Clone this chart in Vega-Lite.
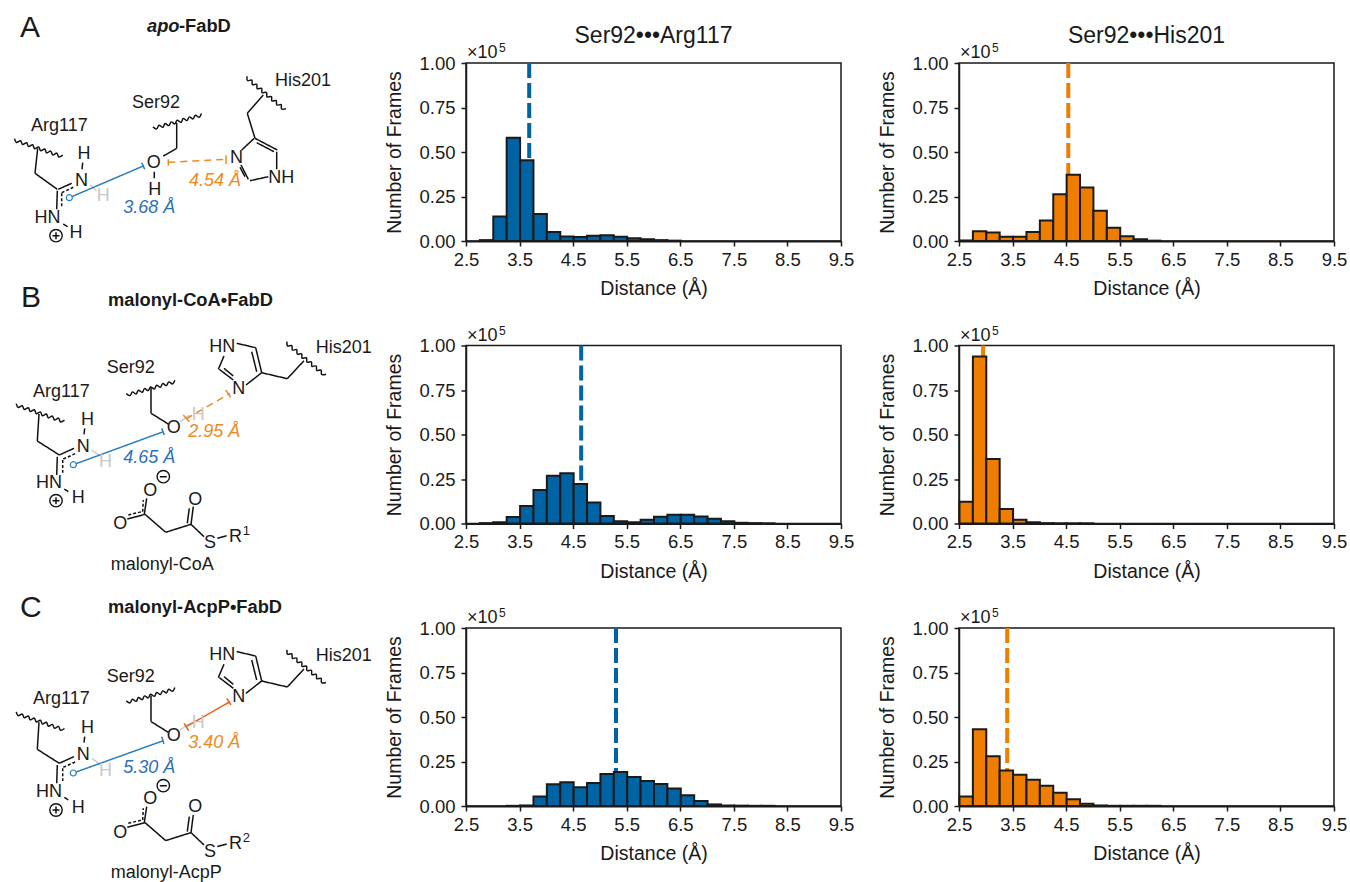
{
"$schema":"https://vega.github.io/schema/vega-lite/v6.json",
"padding":0,"background":"white","autosize":{"type":"pad"},
"config":{"font":"Liberation Sans","view":{"stroke":"#1a1a1a","strokeWidth":1.5},"text":{"color":"#1a1a1a"},
"axis":{"grid":false,"labelFontSize":18.5,"titleFontSize":19.5,"titleFontWeight":"normal","labelColor":"#1a1a1a","titleColor":"#1a1a1a","tickColor":"#1a1a1a","domainColor":"#1a1a1a","tickWidth":1.5,"domainWidth":1.5,"tickSize":5,"labelFlush":false,"labelOverlap":false},
"axisX":{"labelPadding":4,"titlePadding":11,"domainWidth":2.2},"axisY":{"labelPadding":6,"titlePadding":14}},
"datasets":{
"means":[{"panel":"A-Arg","mean":3.68},{"panel":"A-His","mean":4.54},{"panel":"B-Arg","mean":4.65},{"panel":"B-His","mean":2.95},{"panel":"C-Arg","mean":5.30},{"panel":"C-His","mean":3.40}],
"bars":[
{"panel":"A-Arg","start":2.75,"frames":500},{"panel":"A-Arg","start":3.0,"frames":13700},{"panel":"A-Arg","start":3.25,"frames":58000},{"panel":"A-Arg","start":3.5,"frames":45300},{"panel":"A-Arg","start":3.75,"frames":15200},{"panel":"A-Arg","start":4.0,"frames":5000},{"panel":"A-Arg","start":4.25,"frames":2500},{"panel":"A-Arg","start":4.5,"frames":2200},{"panel":"A-Arg","start":4.75,"frames":3000},{"panel":"A-Arg","start":5.0,"frames":3200},{"panel":"A-Arg","start":5.25,"frames":2400},{"panel":"A-Arg","start":5.5,"frames":1600},{"panel":"A-Arg","start":5.75,"frames":1000},{"panel":"A-Arg","start":6.0,"frames":500},{"panel":"A-Arg","start":6.25,"frames":200},
{"panel":"A-His","start":2.5,"frames":300},{"panel":"A-His","start":2.75,"frames":5500},{"panel":"A-His","start":3.0,"frames":4800},{"panel":"A-His","start":3.25,"frames":2400},{"panel":"A-His","start":3.5,"frames":2400},{"panel":"A-His","start":3.75,"frames":5000},{"panel":"A-His","start":4.0,"frames":11500},{"panel":"A-His","start":4.25,"frames":26200},{"panel":"A-His","start":4.5,"frames":37200},{"panel":"A-His","start":4.75,"frames":30000},{"panel":"A-His","start":5.0,"frames":17000},{"panel":"A-His","start":5.25,"frames":7500},{"panel":"A-His","start":5.5,"frames":2700},{"panel":"A-His","start":5.75,"frames":1000},{"panel":"A-His","start":6.0,"frames":200},
{"panel":"B-Arg","start":2.75,"frames":200},{"panel":"B-Arg","start":3.0,"frames":700},{"panel":"B-Arg","start":3.25,"frames":3700},{"panel":"B-Arg","start":3.5,"frames":9800},{"panel":"B-Arg","start":3.75,"frames":18800},{"panel":"B-Arg","start":4.0,"frames":26800},{"panel":"B-Arg","start":4.25,"frames":28200},{"panel":"B-Arg","start":4.5,"frames":22200},{"panel":"B-Arg","start":4.75,"frames":11800},{"panel":"B-Arg","start":5.0,"frames":4200},{"panel":"B-Arg","start":5.25,"frames":1200},{"panel":"B-Arg","start":5.5,"frames":700},{"panel":"B-Arg","start":5.75,"frames":2100},{"panel":"B-Arg","start":6.0,"frames":3800},{"panel":"B-Arg","start":6.25,"frames":4900},{"panel":"B-Arg","start":6.5,"frames":4900},{"panel":"B-Arg","start":6.75,"frames":4000},{"panel":"B-Arg","start":7.0,"frames":2600},{"panel":"B-Arg","start":7.25,"frames":1200},{"panel":"B-Arg","start":7.5,"frames":400},{"panel":"B-Arg","start":7.75,"frames":200},{"panel":"B-Arg","start":8.0,"frames":100},
{"panel":"B-His","start":2.5,"frames":12200},{"panel":"B-His","start":2.75,"frames":93800},{"panel":"B-His","start":3.0,"frames":36200},{"panel":"B-His","start":3.25,"frames":8100},{"panel":"B-His","start":3.5,"frames":2100},{"panel":"B-His","start":3.75,"frames":700},{"panel":"B-His","start":4.0,"frames":200},{"panel":"B-His","start":4.25,"frames":100},{"panel":"B-His","start":4.5,"frames":100},{"panel":"B-His","start":4.75,"frames":100},
{"panel":"C-Arg","start":3.25,"frames":100},{"panel":"C-Arg","start":3.5,"frames":300},{"panel":"C-Arg","start":3.75,"frames":5300},{"panel":"C-Arg","start":4.0,"frames":12200},{"panel":"C-Arg","start":4.25,"frames":13300},{"panel":"C-Arg","start":4.5,"frames":10500},{"panel":"C-Arg","start":4.75,"frames":12900},{"panel":"C-Arg","start":5.0,"frames":18000},{"panel":"C-Arg","start":5.25,"frames":19100},{"panel":"C-Arg","start":5.5,"frames":16300},{"panel":"C-Arg","start":5.75,"frames":14100},{"panel":"C-Arg","start":6.0,"frames":12400},{"panel":"C-Arg","start":6.25,"frames":9800},{"panel":"C-Arg","start":6.5,"frames":6000},{"panel":"C-Arg","start":6.75,"frames":2800},{"panel":"C-Arg","start":7.0,"frames":900},{"panel":"C-Arg","start":7.25,"frames":300},{"panel":"C-Arg","start":7.5,"frames":200},{"panel":"C-Arg","start":7.75,"frames":100},{"panel":"C-Arg","start":8.0,"frames":100},
{"panel":"C-His","start":2.5,"frames":5400},{"panel":"C-His","start":2.75,"frames":43100},{"panel":"C-His","start":3.0,"frames":28000},{"panel":"C-His","start":3.25,"frames":20000},{"panel":"C-His","start":3.5,"frames":17600},{"panel":"C-His","start":3.75,"frames":14800},{"panel":"C-His","start":4.0,"frames":11400},{"panel":"C-His","start":4.25,"frames":7500},{"panel":"C-His","start":4.5,"frames":3800},{"panel":"C-His","start":4.75,"frames":1300},{"panel":"C-His","start":5.0,"frames":300},{"panel":"C-His","start":5.25,"frames":100},{"panel":"C-His","start":5.5,"frames":100},{"panel":"C-His","start":5.75,"frames":100},{"panel":"C-His","start":6.0,"frames":100}
],
"bonds":[
{"kind":"bond","x":37.7,"y":148.3,"x2":35,"y2":173.3},{"kind":"bond","x":35,"y":173.3,"x2":57.3,"y2":189.3},{"kind":"bond","x":58.3,"y":189.3,"x2":71.7,"y2":183.3},{"kind":"partial","x":61.7,"y":192.7,"x2":73.3,"y2":187.3},{"kind":"bond","x":57.3,"y":190.7,"x2":56.7,"y2":209.3},{"kind":"partial","x":61.7,"y":193.3,"x2":61.7,"y2":208.3},{"kind":"bond","x":82.7,"y":162.7,"x2":82,"y2":169.3},{"kind":"ghost","x":90,"y":185,"x2":96.7,"y2":190.7},{"kind":"bond","x":63.3,"y":224,"x2":67.7,"y2":226.7},
{"kind":"bond","x":176.7,"y":122.7,"x2":176.7,"y2":148.3},{"kind":"bond","x":176.7,"y":148.3,"x2":163.3,"y2":156},{"kind":"bond","x":154.3,"y":171.7,"x2":154.3,"y2":178.3},
{"kind":"bond","x":263.3,"y":95,"x2":247.3,"y2":113.3},{"kind":"bond","x":247.3,"y":113.3,"x2":255,"y2":138.3},{"kind":"bond","x":255,"y":138.3,"x2":277.3,"y2":150},{"kind":"bond","x":256.7,"y":142.7,"x2":274,"y2":151.7},{"kind":"bond","x":276.7,"y":151.7,"x2":276.7,"y2":169.3},{"kind":"bond","x":268.3,"y":176.7,"x2":250,"y2":180.7},{"kind":"bond","x":248.3,"y":179.3,"x2":241,"y2":165},{"kind":"bond","x":245,"y":176.7,"x2":240,"y2":167.3},{"kind":"bond","x":254.3,"y":138.3,"x2":241.7,"y2":150},
{"kind":"argLink","x":69.3,"y":197.7,"x2":144,"y2":165.7},{"kind":"argLink","x":141.7,"y":162.7,"x2":144.7,"y2":169.3},{"kind":"hisDash","x":168.3,"y":162.3,"x2":226.7,"y2":159.3},{"kind":"hisLink","x":168.3,"y":159.3,"x2":168.3,"y2":165.7},{"kind":"hisLink","x":226,"y":155.3,"x2":226,"y2":164},
{"kind":"sign","x":52.5,"y":235.7,"x2":59.5,"y2":235.7},{"kind":"sign","x":56,"y":232.2,"x2":56,"y2":239.2},
{"kind":"bond","x":39,"y":414,"x2":37.3,"y2":441},{"kind":"bond","x":37.3,"y":441,"x2":59.3,"y2":455},{"kind":"bond","x":59.3,"y":455,"x2":74,"y2":448.3},{"kind":"partial","x":63.3,"y":459,"x2":76,"y2":453.3},{"kind":"bond","x":57.3,"y":456.7,"x2":56.7,"y2":475},{"kind":"partial","x":62.7,"y":460,"x2":62.7,"y2":472.7},{"kind":"bond","x":84.7,"y":428.3,"x2":84,"y2":434.3},{"kind":"ghost","x":91.7,"y":450,"x2":100,"y2":456},{"kind":"bond","x":64.3,"y":489,"x2":68.3,"y2":491.7},
{"kind":"bond","x":151,"y":387.3,"x2":151,"y2":413.3},{"kind":"bond","x":151,"y":413.3,"x2":168.3,"y2":424},{"kind":"ghost","x":180,"y":421.7,"x2":190,"y2":415},
{"kind":"bond","x":304,"y":360.7,"x2":287.3,"y2":378.7},{"kind":"bond","x":287.3,"y":378.7,"x2":261.7,"y2":372.7},{"kind":"bond","x":261.7,"y":372.7,"x2":255.7,"y2":347.7},{"kind":"bond","x":256.7,"y":371.7,"x2":251.7,"y2":351.7},{"kind":"bond","x":236.7,"y":343.3,"x2":255.7,"y2":347.7},{"kind":"bond","x":224,"y":356,"x2":218.3,"y2":369.3},{"kind":"bond","x":219.3,"y":369.3,"x2":233.3,"y2":380},{"kind":"bond","x":224,"y":368.3,"x2":233.3,"y2":376},{"kind":"bond","x":246,"y":385,"x2":261.7,"y2":372.7},
{"kind":"bond","x":127.3,"y":519,"x2":145,"y2":514.3},{"kind":"partial","x":128.3,"y":515,"x2":141.7,"y2":511.7},{"kind":"bond","x":144.3,"y":514.3,"x2":146.7,"y2":498.3},{"kind":"partial","x":142.7,"y":511.7,"x2":143.3,"y2":500},{"kind":"bond","x":145,"y":514.3,"x2":165.7,"y2":532.3},{"kind":"bond","x":165.7,"y":532.3,"x2":191,"y2":524.3},{"kind":"bond","x":191,"y":524.3,"x2":193.3,"y2":506.7},{"kind":"bond","x":187.3,"y":523.3,"x2":189.3,"y2":508.3},{"kind":"bond","x":191,"y":524.3,"x2":204,"y2":536.7},{"kind":"bond","x":217.3,"y":538.3,"x2":226.7,"y2":535.7},
{"kind":"argLink","x":73.3,"y":464.7,"x2":163.3,"y2":431.7},{"kind":"argLink","x":161.7,"y":428.3,"x2":164.3,"y2":435},{"kind":"hisDash","x":186,"y":419,"x2":230,"y2":393.3},{"kind":"hisLink","x":183.3,"y":415,"x2":189.3,"y2":421.7},{"kind":"hisLink","x":225.7,"y":390,"x2":230.7,"y2":397.3},
{"kind":"sign","x":52.5,"y":500.7,"x2":59.5,"y2":500.7},{"kind":"sign","x":56,"y":497.2,"x2":56,"y2":504.2},{"kind":"sign","x":159.8,"y":476.7,"x2":166.8,"y2":476.7},
{"kind":"bond","x":39,"y":722.3,"x2":37.3,"y2":749.3},{"kind":"bond","x":37.3,"y":749.3,"x2":59.3,"y2":763.3},{"kind":"bond","x":59.3,"y":763.3,"x2":74,"y2":756.6},{"kind":"partial","x":63.3,"y":767.3,"x2":76,"y2":761.6},{"kind":"bond","x":57.3,"y":765,"x2":56.7,"y2":783.3},{"kind":"partial","x":62.7,"y":768.3,"x2":62.7,"y2":781},{"kind":"bond","x":84.7,"y":736.6,"x2":84,"y2":742.6},{"kind":"ghost","x":91.7,"y":758.3,"x2":100,"y2":764.3},{"kind":"bond","x":64.3,"y":797.3,"x2":68.3,"y2":800},
{"kind":"bond","x":151,"y":695.6,"x2":151,"y2":721.6},{"kind":"bond","x":151,"y":721.6,"x2":168.3,"y2":732.3},{"kind":"ghost","x":180,"y":730,"x2":190,"y2":723.3},
{"kind":"bond","x":304,"y":669,"x2":287.3,"y2":687},{"kind":"bond","x":287.3,"y":687,"x2":261.7,"y2":681},{"kind":"bond","x":261.7,"y":681,"x2":255.7,"y2":656},{"kind":"bond","x":256.7,"y":680,"x2":251.7,"y2":660},{"kind":"bond","x":236.7,"y":651.6,"x2":255.7,"y2":656},{"kind":"bond","x":224,"y":664.3,"x2":218.3,"y2":677.6},{"kind":"bond","x":219.3,"y":677.6,"x2":233.3,"y2":688.3},{"kind":"bond","x":224,"y":676.6,"x2":233.3,"y2":684.3},{"kind":"bond","x":246,"y":693.3,"x2":261.7,"y2":681},
{"kind":"bond","x":127.3,"y":827.3,"x2":145,"y2":822.6},{"kind":"partial","x":128.3,"y":823.3,"x2":141.7,"y2":820},{"kind":"bond","x":144.3,"y":822.6,"x2":146.7,"y2":806.6},{"kind":"partial","x":142.7,"y":820,"x2":143.3,"y2":808.3},{"kind":"bond","x":145,"y":822.6,"x2":165.7,"y2":840.6},{"kind":"bond","x":165.7,"y":840.6,"x2":191,"y2":832.6},{"kind":"bond","x":191,"y":832.6,"x2":193.3,"y2":815},{"kind":"bond","x":187.3,"y":831.6,"x2":189.3,"y2":816.6},{"kind":"bond","x":191,"y":832.6,"x2":204,"y2":845},{"kind":"bond","x":217.3,"y":846.6,"x2":226.7,"y2":844},
{"kind":"argLink","x":73.3,"y":773,"x2":163.3,"y2":740.7},{"kind":"argLink","x":161.7,"y":736.7,"x2":164,"y2":744},{"kind":"hisSolid","x":186,"y":726.7,"x2":230,"y2":701.7},{"kind":"hisSolid","x":184,"y":723.3,"x2":188.7,"y2":730.7},{"kind":"hisSolid","x":226.7,"y":698.3,"x2":231,"y2":705},
{"kind":"sign","x":52.5,"y":810,"x2":59.5,"y2":810},{"kind":"sign","x":56,"y":806.5,"x2":56,"y2":813.5},{"kind":"sign","x":159.8,"y":785.7,"x2":166.8,"y2":785.7}
],
"waves":[
{"id":"argA","s":0,"x":14.5,"y":138.6},{"id":"argA","s":1,"x":16.5,"y":142.5},{"id":"argA","s":2,"x":20.5,"y":140.7},{"id":"argA","s":3,"x":22.6,"y":144.5},{"id":"argA","s":4,"x":26.6,"y":142.7},{"id":"argA","s":5,"x":28.6,"y":146.6},{"id":"argA","s":6,"x":32.6,"y":144.8},{"id":"argA","s":7,"x":34.7,"y":148.7},{"id":"argA","s":8,"x":38.7,"y":146.9},{"id":"argA","s":9,"x":40.7,"y":150.8},{"id":"argA","s":10,"x":44.7,"y":149},{"id":"argA","s":11,"x":46.7,"y":152.9},{"id":"argA","s":12,"x":50.7,"y":151.1},{"id":"argA","s":13,"x":52.8,"y":155},{"id":"argA","s":14,"x":56.8,"y":153.1},{"id":"argA","s":15,"x":58.8,"y":157},{"id":"argA","s":16,"x":62.8,"y":155.2},
{"id":"argB","s":0,"x":16.2,"y":403.6},{"id":"argB","s":1,"x":18.2,"y":407.5},{"id":"argB","s":2,"x":22.2,"y":405.7},{"id":"argB","s":3,"x":24.3,"y":409.5},{"id":"argB","s":4,"x":28.3,"y":407.7},{"id":"argB","s":5,"x":30.3,"y":411.6},{"id":"argB","s":6,"x":34.3,"y":409.8},{"id":"argB","s":7,"x":36.4,"y":413.7},{"id":"argB","s":8,"x":40.4,"y":411.9},{"id":"argB","s":9,"x":42.4,"y":415.8},{"id":"argB","s":10,"x":46.4,"y":414},{"id":"argB","s":11,"x":48.4,"y":417.9},{"id":"argB","s":12,"x":52.4,"y":416.1},{"id":"argB","s":13,"x":54.5,"y":420},{"id":"argB","s":14,"x":58.5,"y":418.1},{"id":"argB","s":15,"x":60.5,"y":422},{"id":"argB","s":16,"x":64.5,"y":420.2},
{"id":"argC","s":0,"x":16.2,"y":711.9},{"id":"argC","s":1,"x":18.2,"y":715.8},{"id":"argC","s":2,"x":22.2,"y":714},{"id":"argC","s":3,"x":24.3,"y":717.8},{"id":"argC","s":4,"x":28.3,"y":716},{"id":"argC","s":5,"x":30.3,"y":719.9},{"id":"argC","s":6,"x":34.3,"y":718.1},{"id":"argC","s":7,"x":36.4,"y":722},{"id":"argC","s":8,"x":40.4,"y":720.2},{"id":"argC","s":9,"x":42.4,"y":724.1},{"id":"argC","s":10,"x":46.4,"y":722.3},{"id":"argC","s":11,"x":48.4,"y":726.2},{"id":"argC","s":12,"x":52.4,"y":724.4},{"id":"argC","s":13,"x":54.5,"y":728.3},{"id":"argC","s":14,"x":58.5,"y":726.4},{"id":"argC","s":15,"x":60.5,"y":730.3},{"id":"argC","s":16,"x":64.5,"y":728.5},
{"id":"serA","s":0,"x":152.9,"y":126.9},{"id":"serA","s":1,"x":156.7,"y":128.9},{"id":"serA","s":2,"x":159,"y":125.2},{"id":"serA","s":3,"x":162.8,"y":127.3},{"id":"serA","s":4,"x":165,"y":123.5},{"id":"serA","s":5,"x":168.9,"y":125.6},{"id":"serA","s":6,"x":171.1,"y":121.9},{"id":"serA","s":7,"x":174.9,"y":123.9},{"id":"serA","s":8,"x":177.1,"y":120.2},{"id":"serA","s":9,"x":181,"y":122.3},{"id":"serA","s":10,"x":183.2,"y":118.5},{"id":"serA","s":11,"x":187,"y":120.6},{"id":"serA","s":12,"x":189.3,"y":116.9},{"id":"serA","s":13,"x":193.1,"y":118.9},{"id":"serA","s":14,"x":195.3,"y":115.2},{"id":"serA","s":15,"x":199.2,"y":117.3},{"id":"serA","s":16,"x":201.4,"y":113.6},
{"id":"serB","s":0,"x":126.3,"y":393.6},{"id":"serB","s":1,"x":130.1,"y":395.6},{"id":"serB","s":2,"x":132.4,"y":391.9},{"id":"serB","s":3,"x":136.2,"y":394},{"id":"serB","s":4,"x":138.4,"y":390.2},{"id":"serB","s":5,"x":142.3,"y":392.3},{"id":"serB","s":6,"x":144.5,"y":388.6},{"id":"serB","s":7,"x":148.3,"y":390.6},{"id":"serB","s":8,"x":150.5,"y":386.9},{"id":"serB","s":9,"x":154.4,"y":389},{"id":"serB","s":10,"x":156.6,"y":385.2},{"id":"serB","s":11,"x":160.4,"y":387.3},{"id":"serB","s":12,"x":162.7,"y":383.6},{"id":"serB","s":13,"x":166.5,"y":385.6},{"id":"serB","s":14,"x":168.7,"y":381.9},{"id":"serB","s":15,"x":172.6,"y":384},{"id":"serB","s":16,"x":174.8,"y":380.3},
{"id":"serC","s":0,"x":126.3,"y":700.9},{"id":"serC","s":1,"x":130.1,"y":702.9},{"id":"serC","s":2,"x":132.4,"y":699.2},{"id":"serC","s":3,"x":136.2,"y":701.3},{"id":"serC","s":4,"x":138.4,"y":697.5},{"id":"serC","s":5,"x":142.3,"y":699.6},{"id":"serC","s":6,"x":144.5,"y":695.9},{"id":"serC","s":7,"x":148.3,"y":697.9},{"id":"serC","s":8,"x":150.5,"y":694.2},{"id":"serC","s":9,"x":154.4,"y":696.3},{"id":"serC","s":10,"x":156.6,"y":692.5},{"id":"serC","s":11,"x":160.4,"y":694.6},{"id":"serC","s":12,"x":162.7,"y":690.9},{"id":"serC","s":13,"x":166.5,"y":692.9},{"id":"serC","s":14,"x":168.7,"y":689.2},{"id":"serC","s":15,"x":172.6,"y":691.3},{"id":"serC","s":16,"x":174.8,"y":687.6},
{"id":"hisA","s":0,"x":247,"y":76.2},{"id":"hisA","s":1,"x":247.5,"y":80.5},{"id":"hisA","s":2,"x":251.8,"y":80.2},{"id":"hisA","s":3,"x":252.4,"y":84.6},{"id":"hisA","s":4,"x":256.7,"y":84.3},{"id":"hisA","s":5,"x":257.2,"y":88.6},{"id":"hisA","s":6,"x":261.6,"y":88.4},{"id":"hisA","s":7,"x":262.1,"y":92.7},{"id":"hisA","s":8,"x":266.5,"y":92.5},{"id":"hisA","s":9,"x":267,"y":96.8},{"id":"hisA","s":10,"x":271.4,"y":96.6},{"id":"hisA","s":11,"x":271.9,"y":100.9},{"id":"hisA","s":12,"x":276.2,"y":100.6},{"id":"hisA","s":13,"x":276.8,"y":105},{"id":"hisA","s":14,"x":281.1,"y":104.7},{"id":"hisA","s":15,"x":281.6,"y":109},{"id":"hisA","s":16,"x":286,"y":108.8},
{"id":"hisB","s":0,"x":287,"y":341.6},{"id":"hisB","s":1,"x":287.5,"y":345.9},{"id":"hisB","s":2,"x":291.8,"y":345.6},{"id":"hisB","s":3,"x":292.4,"y":350},{"id":"hisB","s":4,"x":296.7,"y":349.7},{"id":"hisB","s":5,"x":297.2,"y":354},{"id":"hisB","s":6,"x":301.6,"y":353.8},{"id":"hisB","s":7,"x":302.1,"y":358.1},{"id":"hisB","s":8,"x":306.5,"y":357.9},{"id":"hisB","s":9,"x":307,"y":362.2},{"id":"hisB","s":10,"x":311.4,"y":362},{"id":"hisB","s":11,"x":311.9,"y":366.3},{"id":"hisB","s":12,"x":316.2,"y":366},{"id":"hisB","s":13,"x":316.8,"y":370.4},{"id":"hisB","s":14,"x":321.1,"y":370.1},{"id":"hisB","s":15,"x":321.6,"y":374.4},{"id":"hisB","s":16,"x":326,"y":374.2},
{"id":"hisC","s":0,"x":287,"y":649.9},{"id":"hisC","s":1,"x":287.5,"y":654.2},{"id":"hisC","s":2,"x":291.8,"y":653.9},{"id":"hisC","s":3,"x":292.4,"y":658.3},{"id":"hisC","s":4,"x":296.7,"y":658},{"id":"hisC","s":5,"x":297.2,"y":662.3},{"id":"hisC","s":6,"x":301.6,"y":662.1},{"id":"hisC","s":7,"x":302.1,"y":666.4},{"id":"hisC","s":8,"x":306.5,"y":666.2},{"id":"hisC","s":9,"x":307,"y":670.5},{"id":"hisC","s":10,"x":311.4,"y":670.3},{"id":"hisC","s":11,"x":311.9,"y":674.6},{"id":"hisC","s":12,"x":316.2,"y":674.3},{"id":"hisC","s":13,"x":316.8,"y":678.7},{"id":"hisC","s":14,"x":321.1,"y":678.4},{"id":"hisC","s":15,"x":321.6,"y":682.7},{"id":"hisC","s":16,"x":326,"y":682.5}
],
"labels":[
{"role":"panel","x":20,"y":36.7,"t":"A"},{"role":"panel","x":21,"y":307,"t":"B"},{"role":"panel","x":20,"y":617,"t":"C"},
{"role":"headItalic","x":147,"y":31.7,"t":"apo"},{"role":"head","x":179,"y":31.7,"t":"-FabD"},{"role":"head","x":108,"y":306,"t":"malonyl-CoA•FabD"},{"role":"head","x":108,"y":613,"t":"malonyl-AcpP•FabD"},
{"role":"atom","x":31,"y":131,"t":"Arg117"},{"role":"atom","x":132,"y":107.7,"t":"Ser92"},{"role":"atom","x":275,"y":86,"t":"His201"},{"role":"atom","x":77.5,"y":158.5,"t":"H"},{"role":"atom","x":75,"y":186,"t":"N"},{"role":"ghost","x":96.7,"y":201,"t":"H"},{"role":"atom","x":34.5,"y":222.7,"t":"HN"},{"role":"atom","x":69.5,"y":237.7,"t":"H"},{"role":"atom","x":146.7,"y":168,"t":"O"},{"role":"atom","x":148.3,"y":195,"t":"H"},{"role":"atom","x":230,"y":163,"t":"N"},{"role":"atom","x":268.3,"y":182.7,"t":"NH"},
{"role":"his","x":189,"y":186,"t":"4.54 Å"},{"role":"arg","x":123.3,"y":212.7,"t":"3.68 Å"},
{"role":"atom","x":33,"y":396.7,"t":"Arg117"},{"role":"atom","x":106.7,"y":373.3,"t":"Ser92"},{"role":"atom","x":315.7,"y":352.7,"t":"His201"},{"role":"atom","x":209.3,"y":351.7,"t":"HN"},{"role":"atom","x":232.3,"y":394,"t":"N"},{"role":"atom","x":166.7,"y":432.7,"t":"O"},{"role":"ghost","x":191.7,"y":420,"t":"H"},{"role":"atom","x":81,"y":424.7,"t":"H"},{"role":"atom","x":76.7,"y":451.7,"t":"N"},{"role":"ghost","x":99,"y":466.7,"t":"H"},{"role":"atom","x":36,"y":488.3,"t":"HN"},{"role":"atom","x":71.7,"y":503.3,"t":"H"},
{"role":"his","x":188.3,"y":436.7,"t":"2.95 Å"},{"role":"arg","x":123.3,"y":462.7,"t":"4.65 Å"},
{"role":"atom","x":143.3,"y":495.7,"t":"O"},{"role":"atom","x":113.3,"y":529.3,"t":"O"},{"role":"atom","x":188.3,"y":505,"t":"O"},{"role":"atom","x":204,"y":548.3,"t":"S"},{"role":"atom","x":229,"y":541.7,"t":"R"},{"role":"sup","x":242.7,"y":535,"t":"1"},{"role":"atom","x":110.7,"y":570,"t":"malonyl-CoA"},
{"role":"atom","x":33,"y":704.3,"t":"Arg117"},{"role":"atom","x":106.7,"y":681.7,"t":"Ser92"},{"role":"atom","x":315.7,"y":661,"t":"His201"},{"role":"atom","x":209.3,"y":660.3,"t":"HN"},{"role":"atom","x":232.3,"y":701.7,"t":"N"},{"role":"atom","x":166.7,"y":741,"t":"O"},{"role":"ghost","x":191.7,"y":727.7,"t":"H"},{"role":"atom","x":81,"y":733.3,"t":"H"},{"role":"atom","x":76.7,"y":760,"t":"N"},{"role":"ghost","x":99,"y":775.7,"t":"H"},{"role":"atom","x":36,"y":796.7,"t":"HN"},{"role":"atom","x":71.7,"y":812.7,"t":"H"},
{"role":"his","x":188.3,"y":747.7,"t":"3.40 Å"},{"role":"arg","x":123.3,"y":773.3,"t":"5.30 Å"},
{"role":"atom","x":143.3,"y":804.3,"t":"O"},{"role":"atom","x":113.3,"y":837.7,"t":"O"},{"role":"atom","x":188.3,"y":812.3,"t":"O"},{"role":"atom","x":204,"y":856.7,"t":"S"},{"role":"atom","x":229,"y":849.3,"t":"R"},{"role":"sup","x":242.7,"y":842,"t":"2"},{"role":"atom","x":110.7,"y":877.7,"t":"malonyl-AcpP"}
],
"rings":[{"role":"charge","x":56,"y":235.7},{"role":"charge","x":56,"y":500.7},{"role":"charge","x":163.3,"y":476.7},{"role":"charge","x":56,"y":810},{"role":"charge","x":163.3,"y":785.7},{"role":"anchor","x":69.3,"y":197.7},{"role":"anchor","x":73.3,"y":464.7},{"role":"anchor","x":73.3,"y":773}]
},
"hconcat":[
{"width":440,"height":882,"view":{"stroke":null},
"encoding":{"x":{"field":"x","type":"quantitative","scale":{"domain":[0,440],"nice":false,"zero":false},"axis":null},"y":{"field":"y","type":"quantitative","scale":{"domain":[882,0],"nice":false,"zero":false},"axis":null}},
"layer":[
{"data":{"name":"bonds"},"mark":{"type":"rule","strokeWidth":1.5},"encoding":{"x2":{"field":"x2"},"y2":{"field":"y2"},
"color":{"field":"kind","type":"nominal","legend":null,"scale":{"domain":["bond","partial","ghost","sign","argLink","hisDash","hisLink","hisSolid"],"range":["#111111","#111111","#cccccc","#111111","#2c7dbd","#f08a1d","#f08a1d","#e8611f"]}},
"strokeDash":{"field":"kind","type":"nominal","legend":null,"scale":{"domain":["bond","partial","ghost","sign","argLink","hisDash","hisLink","hisSolid"],"range":[[1,0],[3,2],[1,0],[1,0],[1,0],[7,5],[1,0],[1,0]]}}}},
{"data":{"name":"waves"},"mark":{"type":"line","interpolate":"cardinal","strokeWidth":1.5,"color":"#111111"},"encoding":{"detail":{"field":"id"},"order":{"field":"s","type":"quantitative"}}},
{"data":{"name":"rings"},"transform":[{"filter":"datum.role=='charge'"}],"mark":{"type":"point","shape":"circle","size":154,"stroke":"#111111","strokeWidth":1.4,"fill":null,"opacity":1}},
{"data":{"name":"rings"},"transform":[{"filter":"datum.role=='anchor'"}],"mark":{"type":"point","shape":"circle","size":36,"stroke":"#2c7dbd","strokeWidth":1.2,"fill":"white","filled":true,"opacity":1}},
{"data":{"name":"labels"},"transform":[{"filter":"datum.role=='atom'"}],"mark":{"type":"text","align":"left","baseline":"alphabetic","fontSize":18,"color":"#1a1a1a"},"encoding":{"text":{"field":"t"}}},
{"data":{"name":"labels"},"transform":[{"filter":"datum.role=='ghost'"}],"mark":{"type":"text","align":"left","baseline":"alphabetic","fontSize":18,"color":"#c8c8c8"},"encoding":{"text":{"field":"t"}}},
{"data":{"name":"labels"},"transform":[{"filter":"datum.role=='sup'"}],"mark":{"type":"text","align":"left","baseline":"alphabetic","fontSize":13,"color":"#1a1a1a"},"encoding":{"text":{"field":"t"}}},
{"data":{"name":"labels"},"transform":[{"filter":"datum.role=='arg'"}],"mark":{"type":"text","align":"left","baseline":"alphabetic","fontSize":18,"fontStyle":"italic","color":"#2c70b8"},"encoding":{"text":{"field":"t"}}},
{"data":{"name":"labels"},"transform":[{"filter":"datum.role=='his'"}],"mark":{"type":"text","align":"left","baseline":"alphabetic","fontSize":18,"fontStyle":"italic","color":"#f08a1d"},"encoding":{"text":{"field":"t"}}},
{"data":{"name":"labels"},"transform":[{"filter":"datum.role=='head'"}],"mark":{"type":"text","align":"left","baseline":"alphabetic","fontSize":18.3,"fontWeight":"bold","color":"#1a1a1a"},"encoding":{"text":{"field":"t"}}},
{"data":{"name":"labels"},"transform":[{"filter":"datum.role=='headItalic'"}],"mark":{"type":"text","align":"left","baseline":"alphabetic","fontSize":18.3,"fontWeight":"bold","fontStyle":"italic","color":"#1a1a1a"},"encoding":{"text":{"field":"t"}}},
{"data":{"name":"labels"},"transform":[{"filter":"datum.role=='panel'"}],"mark":{"type":"text","align":"left","baseline":"alphabetic","fontSize":30,"color":"#1a1a1a"},"encoding":{"text":{"field":"t"}}}
]},
{"vconcat":[
{"width":10,"height":63,"view":{"stroke":null},"data":{"values":[]},"mark":"point"},
{"columns":2,"bounds":"flush","spacing":{"row":104.5,"column":118},"concat":[
{"width":375,"height":178,"title":{"text":"Ser92•••Arg117","fontSize":23,"fontWeight":"normal","color":"#1a1a1a","offset":-6},"layer":[
{"data":{"name":"means"},"transform":[{"filter":"datum.panel=='A-Arg'"}],"mark":{"type":"rule","strokeWidth":4,"strokeDash":[15,5],"color":"#0063a3"},"encoding":{"x":{"field":"mean","type":"quantitative","scale":{"domain":[2.5,9.5],"nice":false,"zero":false}}}},
{"data":{"name":"bars"},"transform":[{"filter":"datum.panel=='A-Arg'"}],"mark":{"type":"bar","binSpacing":0,"fill":"#0063a3","stroke":"#1a1a1a","strokeWidth":2},"encoding":{"x":{"field":"start","type":"quantitative","bin":{"binned":true,"step":0.25},"scale":{"domain":[2.5,9.5],"nice":false,"zero":false},"axis":{"values":[2.5,3.5,4.5,5.5,6.5,7.5,8.5,9.5],"format":".1f","title":"Distance (Å)"}},"y":{"field":"frames","type":"quantitative","scale":{"domain":[0,100000],"nice":false},"axis":{"values":[0,25000,50000,75000,100000],"labelExpr":"format(datum.value/100000,'.2f')","title":"Number of Frames"}}}},
{"data":{"values":[{"d":2.5,"n":100000,"t":"×10"}]},"mark":{"type":"text","align":"left","baseline":"alphabetic","fontSize":18,"dx":1,"dy":-5},"encoding":{"x":{"field":"d","type":"quantitative"},"y":{"field":"n","type":"quantitative"},"text":{"field":"t"}}},
{"data":{"values":[{"d":2.5,"n":100000,"t":"5"}]},"mark":{"type":"text","align":"left","baseline":"alphabetic","fontSize":12,"dx":33,"dy":-11},"encoding":{"x":{"field":"d","type":"quantitative"},"y":{"field":"n","type":"quantitative"},"text":{"field":"t"}}}
]},
{"width":375,"height":178,"title":{"text":"Ser92•••His201","fontSize":23,"fontWeight":"normal","color":"#1a1a1a","offset":-6},"layer":[
{"data":{"name":"means"},"transform":[{"filter":"datum.panel=='A-His'"}],"mark":{"type":"rule","strokeWidth":4,"strokeDash":[15,5],"color":"#ee7d00"},"encoding":{"x":{"field":"mean","type":"quantitative","scale":{"domain":[2.5,9.5],"nice":false,"zero":false}}}},
{"data":{"name":"bars"},"transform":[{"filter":"datum.panel=='A-His'"}],"mark":{"type":"bar","binSpacing":0,"fill":"#ee7d00","stroke":"#1a1a1a","strokeWidth":2},"encoding":{"x":{"field":"start","type":"quantitative","bin":{"binned":true,"step":0.25},"scale":{"domain":[2.5,9.5],"nice":false,"zero":false},"axis":{"values":[2.5,3.5,4.5,5.5,6.5,7.5,8.5,9.5],"format":".1f","title":"Distance (Å)"}},"y":{"field":"frames","type":"quantitative","scale":{"domain":[0,100000],"nice":false},"axis":{"values":[0,25000,50000,75000,100000],"labelExpr":"format(datum.value/100000,'.2f')","title":"Number of Frames"}}}},
{"data":{"values":[{"d":2.5,"n":100000,"t":"×10"}]},"mark":{"type":"text","align":"left","baseline":"alphabetic","fontSize":18,"dx":1,"dy":-5},"encoding":{"x":{"field":"d","type":"quantitative"},"y":{"field":"n","type":"quantitative"},"text":{"field":"t"}}},
{"data":{"values":[{"d":2.5,"n":100000,"t":"5"}]},"mark":{"type":"text","align":"left","baseline":"alphabetic","fontSize":12,"dx":33,"dy":-11},"encoding":{"x":{"field":"d","type":"quantitative"},"y":{"field":"n","type":"quantitative"},"text":{"field":"t"}}}
]},
{"width":375,"height":178,"layer":[
{"data":{"name":"means"},"transform":[{"filter":"datum.panel=='B-Arg'"}],"mark":{"type":"rule","strokeWidth":4,"strokeDash":[15,5],"color":"#0063a3"},"encoding":{"x":{"field":"mean","type":"quantitative","scale":{"domain":[2.5,9.5],"nice":false,"zero":false}}}},
{"data":{"name":"bars"},"transform":[{"filter":"datum.panel=='B-Arg'"}],"mark":{"type":"bar","binSpacing":0,"fill":"#0063a3","stroke":"#1a1a1a","strokeWidth":2},"encoding":{"x":{"field":"start","type":"quantitative","bin":{"binned":true,"step":0.25},"scale":{"domain":[2.5,9.5],"nice":false,"zero":false},"axis":{"values":[2.5,3.5,4.5,5.5,6.5,7.5,8.5,9.5],"format":".1f","title":"Distance (Å)"}},"y":{"field":"frames","type":"quantitative","scale":{"domain":[0,100000],"nice":false},"axis":{"values":[0,25000,50000,75000,100000],"labelExpr":"format(datum.value/100000,'.2f')","title":"Number of Frames"}}}},
{"data":{"values":[{"d":2.5,"n":100000,"t":"×10"}]},"mark":{"type":"text","align":"left","baseline":"alphabetic","fontSize":18,"dx":1,"dy":-5},"encoding":{"x":{"field":"d","type":"quantitative"},"y":{"field":"n","type":"quantitative"},"text":{"field":"t"}}},
{"data":{"values":[{"d":2.5,"n":100000,"t":"5"}]},"mark":{"type":"text","align":"left","baseline":"alphabetic","fontSize":12,"dx":33,"dy":-11},"encoding":{"x":{"field":"d","type":"quantitative"},"y":{"field":"n","type":"quantitative"},"text":{"field":"t"}}}
]},
{"width":375,"height":178,"layer":[
{"data":{"name":"means"},"transform":[{"filter":"datum.panel=='B-His'"}],"mark":{"type":"rule","strokeWidth":4,"strokeDash":[15,5],"color":"#ee7d00"},"encoding":{"x":{"field":"mean","type":"quantitative","scale":{"domain":[2.5,9.5],"nice":false,"zero":false}}}},
{"data":{"name":"bars"},"transform":[{"filter":"datum.panel=='B-His'"}],"mark":{"type":"bar","binSpacing":0,"fill":"#ee7d00","stroke":"#1a1a1a","strokeWidth":2},"encoding":{"x":{"field":"start","type":"quantitative","bin":{"binned":true,"step":0.25},"scale":{"domain":[2.5,9.5],"nice":false,"zero":false},"axis":{"values":[2.5,3.5,4.5,5.5,6.5,7.5,8.5,9.5],"format":".1f","title":"Distance (Å)"}},"y":{"field":"frames","type":"quantitative","scale":{"domain":[0,100000],"nice":false},"axis":{"values":[0,25000,50000,75000,100000],"labelExpr":"format(datum.value/100000,'.2f')","title":"Number of Frames"}}}},
{"data":{"values":[{"d":2.5,"n":100000,"t":"×10"}]},"mark":{"type":"text","align":"left","baseline":"alphabetic","fontSize":18,"dx":1,"dy":-5},"encoding":{"x":{"field":"d","type":"quantitative"},"y":{"field":"n","type":"quantitative"},"text":{"field":"t"}}},
{"data":{"values":[{"d":2.5,"n":100000,"t":"5"}]},"mark":{"type":"text","align":"left","baseline":"alphabetic","fontSize":12,"dx":33,"dy":-11},"encoding":{"x":{"field":"d","type":"quantitative"},"y":{"field":"n","type":"quantitative"},"text":{"field":"t"}}}
]},
{"width":375,"height":178,"layer":[
{"data":{"name":"means"},"transform":[{"filter":"datum.panel=='C-Arg'"}],"mark":{"type":"rule","strokeWidth":4,"strokeDash":[15,5],"color":"#0063a3"},"encoding":{"x":{"field":"mean","type":"quantitative","scale":{"domain":[2.5,9.5],"nice":false,"zero":false}}}},
{"data":{"name":"bars"},"transform":[{"filter":"datum.panel=='C-Arg'"}],"mark":{"type":"bar","binSpacing":0,"fill":"#0063a3","stroke":"#1a1a1a","strokeWidth":2},"encoding":{"x":{"field":"start","type":"quantitative","bin":{"binned":true,"step":0.25},"scale":{"domain":[2.5,9.5],"nice":false,"zero":false},"axis":{"values":[2.5,3.5,4.5,5.5,6.5,7.5,8.5,9.5],"format":".1f","title":"Distance (Å)"}},"y":{"field":"frames","type":"quantitative","scale":{"domain":[0,100000],"nice":false},"axis":{"values":[0,25000,50000,75000,100000],"labelExpr":"format(datum.value/100000,'.2f')","title":"Number of Frames"}}}},
{"data":{"values":[{"d":2.5,"n":100000,"t":"×10"}]},"mark":{"type":"text","align":"left","baseline":"alphabetic","fontSize":18,"dx":1,"dy":-5},"encoding":{"x":{"field":"d","type":"quantitative"},"y":{"field":"n","type":"quantitative"},"text":{"field":"t"}}},
{"data":{"values":[{"d":2.5,"n":100000,"t":"5"}]},"mark":{"type":"text","align":"left","baseline":"alphabetic","fontSize":12,"dx":33,"dy":-11},"encoding":{"x":{"field":"d","type":"quantitative"},"y":{"field":"n","type":"quantitative"},"text":{"field":"t"}}}
]},
{"width":375,"height":178,"layer":[
{"data":{"name":"means"},"transform":[{"filter":"datum.panel=='C-His'"}],"mark":{"type":"rule","strokeWidth":4,"strokeDash":[15,5],"color":"#ee7d00"},"encoding":{"x":{"field":"mean","type":"quantitative","scale":{"domain":[2.5,9.5],"nice":false,"zero":false}}}},
{"data":{"name":"bars"},"transform":[{"filter":"datum.panel=='C-His'"}],"mark":{"type":"bar","binSpacing":0,"fill":"#ee7d00","stroke":"#1a1a1a","strokeWidth":2},"encoding":{"x":{"field":"start","type":"quantitative","bin":{"binned":true,"step":0.25},"scale":{"domain":[2.5,9.5],"nice":false,"zero":false},"axis":{"values":[2.5,3.5,4.5,5.5,6.5,7.5,8.5,9.5],"format":".1f","title":"Distance (Å)"}},"y":{"field":"frames","type":"quantitative","scale":{"domain":[0,100000],"nice":false},"axis":{"values":[0,25000,50000,75000,100000],"labelExpr":"format(datum.value/100000,'.2f')","title":"Number of Frames"}}}},
{"data":{"values":[{"d":2.5,"n":100000,"t":"×10"}]},"mark":{"type":"text","align":"left","baseline":"alphabetic","fontSize":18,"dx":1,"dy":-5},"encoding":{"x":{"field":"d","type":"quantitative"},"y":{"field":"n","type":"quantitative"},"text":{"field":"t"}}},
{"data":{"values":[{"d":2.5,"n":100000,"t":"5"}]},"mark":{"type":"text","align":"left","baseline":"alphabetic","fontSize":12,"dx":33,"dy":-11},"encoding":{"x":{"field":"d","type":"quantitative"},"y":{"field":"n","type":"quantitative"},"text":{"field":"t"}}}
]}
]}
],"spacing":0,"bounds":"flush"}
],"spacing":26,"bounds":"flush"
}
